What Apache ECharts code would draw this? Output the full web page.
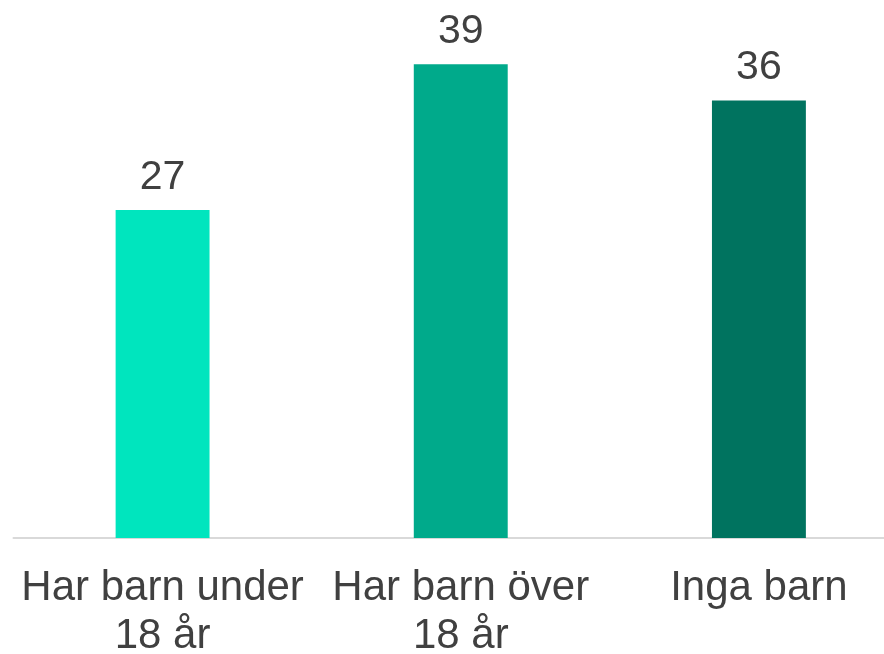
<!DOCTYPE html>
<html>
<head>
    <meta charset="utf-8">
    <script src="https://cdn.jsdelivr.net/npm/echarts@6/dist/echarts.min.js"></script>
    <title>Barn</title>
    <style>
        html, body { margin: 0; padding: 0; background: #fff; }
    </style>
</head>
<body>
    <div id="main" style="width: 884px;height:654px;"></div>
    <script type="text/javascript">
    var categories = ['Har barn under\n18 år', 'Har barn över\n18 år', 'Inga barn'];
    var values = [27, 39, 36];
    var colors = ['#00E5BE', '#00AA8B', '#00735F'];

    var myChart = echarts.init(document.getElementById('main'));

    var data = [];
    for (var i = 0; i < values.length; i++) {
        data.push({ value: values[i], itemStyle: { color: colors[i] } });
    }

    var option = {
        animation: false,
        grid: {
            left: 13.5,
            right: -24,
            top: 52,
            bottom: 116,
            containLabel: false,
            outerBoundsMode: 'none'
        },
        xAxis: {
            type: 'category',
            data: categories,
            axisLine: { lineStyle: { color: '#d9d9d9', width: 2 } },
            axisTick: { show: false },
            axisLabel: {
                interval: 0,
                margin: 26,
                color: '#404040',
                fontFamily: 'Liberation Sans',
                fontSize: 42,
                lineHeight: 48
            }
        },
        yAxis: {
            type: 'value',
            min: 0,
            max: 40,
            show: false,
            splitLine: { show: false }
        },
        series: [{
            type: 'bar',
            data: data,
            barWidth: '31.5%',
            label: {
                show: true,
                position: 'top',
                distance: 12,
                color: '#404040',
                fontFamily: 'Liberation Sans',
                fontSize: 41
            }
        }]
    };
    myChart.setOption(option);
    </script>
</body>
</html>
